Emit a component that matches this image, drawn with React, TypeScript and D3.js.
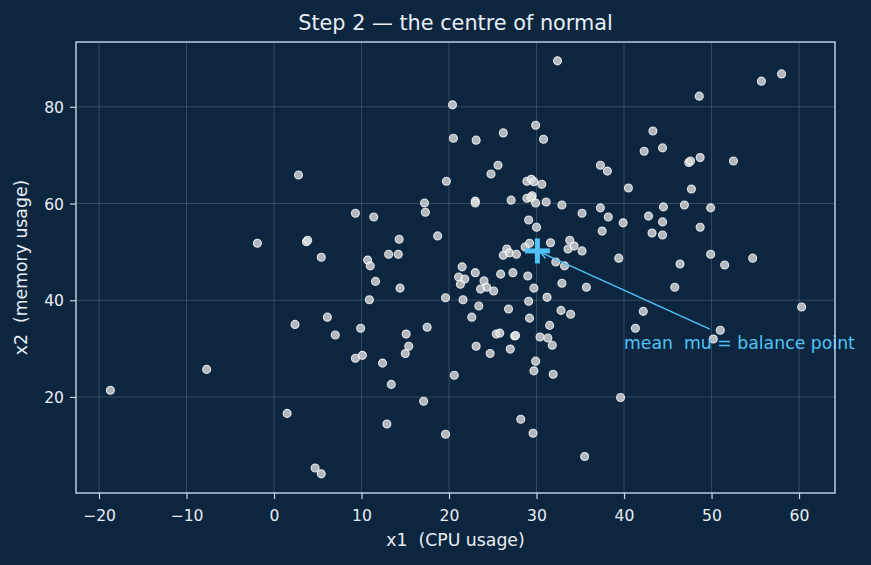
import { useEffect, useRef } from "react";
import * as d3 from "d3";

// one entry per observation: CPU usage (x1) and memory usage (x2)
const cpuUsage = [
  -18.7, -7.7, -1.9, 2.8, 2.4, 3.7, 3.85, 5.4, 1.5, 4.7,
  5.4, 6.1, 7.0, 9.3, 11.4, 9.9, 9.3, 10.1, 12.4, 13.4,
  12.9, 10.7, 11.0, 11.6, 10.9, 14.4, 13.1, 14.2, 14.3, 15.1,
  15.4, 15.0, 17.5, 17.1, 17.2, 17.3, 18.7, 19.6, 19.6, 19.7,
  20.4, 20.5, 20.6, 21.5, 21.1, 21.8, 21.3, 21.6, 22.6, 23.0,
  23.0, 23.0, 23.1, 23.4, 23.1, 24.0, 24.3, 23.6, 25.1, 24.7,
  24.8, 25.6, 25.4, 25.8, 25.9, 26.2, 26.6, 26.2, 26.9, 27.7,
  26.8, 27.0, 27.1, 27.3, 27.5, 27.6, 28.2, 28.7, 28.9, 28.9,
  29.0, 29.1, 29.1, 29.2, 29.2, 29.4, 29.5, 29.4, 29.6, 29.7,
  29.7, 29.7, 29.9, 29.9, 29.9, 30.0, 30.4, 30.6, 30.8, 31.1,
  31.2, 31.3, 31.5, 31.6, 31.8, 31.9, 32.2, 32.4, 32.9, 32.9,
  32.8, 33.2, 33.6, 33.8, 33.9, 34.3, 35.2, 35.2, 35.7, 35.5,
  37.3, 38.1, 37.3, 38.2, 37.5, 39.4, 39.9, 39.6, 40.5, 41.3,
  42.2, 42.3, 42.8, 43.2, 43.3, 44.4, 44.5, 44.4, 44.4, 45.8,
  46.4, 46.9, 47.4, 47.6, 47.7, 48.6, 48.7, 48.7, 49.9, 49.9,
  50.2, 51.0, 51.5, 52.5, 54.7, 55.7, 58.0, 60.3,
];
const memUsage = [
  21.4, 25.7, 51.8, 65.9, 35.0, 52.1, 52.4, 48.9, 16.6, 5.3,
  4.1, 36.5, 32.8, 58.0, 57.2, 34.2, 28.0, 28.6, 27.0, 22.6,
  14.4, 48.3, 47.1, 43.9, 40.1, 42.5, 49.5, 49.5, 52.6, 33.0,
  30.5, 29.0, 34.4, 19.1, 60.1, 58.2, 53.3, 40.5, 12.3, 64.6,
  80.4, 73.5, 24.5, 46.9, 44.8, 44.4, 43.3, 40.1, 36.5, 45.7,
  60.5, 60.1, 73.1, 38.8, 30.5, 44.0, 42.7, 42.3, 41.9, 29.0,
  66.1, 67.9, 33.0, 33.2, 45.4, 74.6, 50.6, 49.3, 49.8, 49.5,
  38.2, 29.9, 60.7, 45.7, 32.6, 32.7, 15.4, 51.0, 64.6, 61.1,
  45.0, 56.6, 39.8, 51.8, 36.3, 65.0, 61.6, 61.2, 12.5, 64.5,
  42.5, 25.4, 76.2, 60.1, 27.4, 55.1, 32.4, 64.0, 73.3, 60.3,
  40.6, 32.2, 34.8, 51.9, 30.7, 24.7, 47.9, 89.5, 59.7, 43.5,
  37.9, 47.1, 50.6, 52.4, 37.1, 51.2, 58.0, 50.2, 42.7, 7.7,
  67.9, 66.7, 59.1, 57.2, 54.3, 48.7, 56.0, 19.9, 63.2, 34.2,
  37.7, 70.8, 57.4, 53.9, 75.0, 71.5, 59.3, 56.2, 53.5, 42.7,
  47.5, 59.7, 68.5, 68.8, 63.0, 82.2, 69.5, 55.1, 59.1, 49.5,
  32.0, 33.8, 47.3, 68.8, 48.7, 85.3, 86.8, 38.6,
];

const xTicks = [-20, -10, 0, 10, 20, 30, 40, 50, 60];
const yTicks = [20, 40, 60, 80];

// centre of the cloud and where its note sits
const meanPoint = { x: 30.1, y: 50.2 };
const noteAt = { x: 40, y: 30 };
const noteText = "mean  mu = balance point";

const WIDTH = 871;
const HEIGHT = 565;
const margin = { top: 42, right: 36, bottom: 72, left: 76 };

const BG = "#0c2640";
const FG = "#e8eef4";
const SPINE = "#c8d6e5";
const ACCENT = "#4fc3f7";
const FONT = "'DejaVu Sans', sans-serif";

const App = () => {
  const ref = useRef<SVGSVGElement | null>(null);

  useEffect(() => {
    document.body.style.margin = "0";
    if (!ref.current) return;

    const svg = d3.select(ref.current);
    svg.selectAll("*").remove();

    const left = margin.left;
    const right = WIDTH - margin.right;
    const top = margin.top;
    const bottom = HEIGHT - margin.bottom;

    const x = d3.scaleLinear().domain([-22.63, 64.11]).range([left, right]);
    const y = d3.scaleLinear().domain([0.14, 93.4]).range([bottom, top]);

    svg.append("rect")
      .attr("width", WIDTH)
      .attr("height", HEIGHT)
      .attr("fill", BG);

    // grid
    const grid = svg.append("g")
      .attr("stroke", "#ffffff")
      .attr("stroke-opacity", 0.16)
      .attr("stroke-width", 1);
    grid.selectAll("line.vx")
      .data(xTicks)
      .join("line")
      .attr("x1", d => x(d))
      .attr("x2", d => x(d))
      .attr("y1", top)
      .attr("y2", bottom);
    grid.selectAll("line.hy")
      .data(yTicks)
      .join("line")
      .attr("class", "hy")
      .attr("x1", left)
      .attr("x2", right)
      .attr("y1", d => y(d))
      .attr("y2", d => y(d));

    // observations
    const points = cpuUsage.map((c, i) => ({ c, m: memUsage[i] }));
    svg.append("g")
      .selectAll("circle")
      .data(points)
      .join("circle")
      .attr("cx", d => x(d.c))
      .attr("cy", d => y(d.m))
      .attr("r", 4)
      .attr("fill", "#dcdcdc")
      .attr("fill-opacity", 0.8)
      .attr("stroke", "#ffffff")
      .attr("stroke-opacity", 0.8)
      .attr("stroke-width", 1.1);

    // mean marker
    const mx = x(meanPoint.x);
    const my = y(meanPoint.y);
    const arm = 12.5;
    svg.append("g")
      .attr("stroke", ACCENT)
      .attr("stroke-width", 5)
      .call(g => {
        g.append("line").attr("x1", mx - arm).attr("x2", mx + arm).attr("y1", my).attr("y2", my);
        g.append("line").attr("x1", mx).attr("x2", mx).attr("y1", my - arm).attr("y2", my + arm);
      });

    // note + arrow pointing at the mean
    const note = svg.append("text")
      .attr("x", x(noteAt.x))
      .attr("y", y(noteAt.y))
      .attr("fill", ACCENT)
      .attr("font-family", FONT)
      .attr("font-size", 17.3)
      .style("white-space", "pre")
      .text(noteText);

    const box = (note.node() as SVGTextElement).getBBox();
    const cx = box.x + box.width / 2;
    const cy = box.y + box.height / 2;
    const dx = mx - cx;
    const dy = my - cy;
    const pad = 3.5;
    const s = Math.min((box.width / 2 + pad) / Math.abs(dx), (box.height / 2 + pad) / Math.abs(dy));
    const sx = cx + s * dx;
    const sy = cy + s * dy;
    const len = Math.hypot(mx - sx, my - sy);
    const ux = (mx - sx) / len;
    const uy = (my - sy) / len;
    const ex = mx - ux * 3.5;
    const ey = my - uy * 3.5;
    const hl = 7;
    const hw = 3.5;

    svg.append("line")
      .attr("x1", sx)
      .attr("y1", sy)
      .attr("x2", ex)
      .attr("y2", ey)
      .attr("stroke", ACCENT)
      .attr("stroke-width", 1.4);
    svg.append("path")
      .attr("d", `M${ex - hl * ux - hw * uy},${ey - hl * uy + hw * ux}L${ex},${ey}L${ex - hl * ux + hw * uy},${ey - hl * uy - hw * ux}`)
      .attr("fill", "none")
      .attr("stroke", ACCENT)
      .attr("stroke-width", 1.4);

    // spines
    svg.append("rect")
      .attr("x", left)
      .attr("y", top)
      .attr("width", right - left)
      .attr("height", bottom - top)
      .attr("fill", "none")
      .attr("stroke", SPINE)
      .attr("stroke-width", 1.4);

    // axes
    const xAxis = svg.append("g")
      .attr("transform", `translate(0,${bottom})`)
      .call(d3.axisBottom(x).tickValues(xTicks).tickSize(6).tickPadding(11));
    const yAxis = svg.append("g")
      .attr("transform", `translate(${left},0)`)
      .call(d3.axisLeft(y).tickValues(yTicks).tickSize(6).tickPadding(6));

    [xAxis, yAxis].forEach(a => {
      a.select(".domain").remove();
      a.selectAll(".tick line").attr("stroke", SPINE).attr("stroke-width", 1.2);
      a.selectAll(".tick text")
        .attr("fill", FG)
        .attr("font-family", FONT)
        .attr("font-size", 15.6);
    });
    yAxis.selectAll(".tick text").attr("dy", "0.36em");

    // labels
    svg.append("text")
      .attr("x", (left + right) / 2)
      .attr("y", 30)
      .attr("text-anchor", "middle")
      .attr("fill", FG)
      .attr("font-family", FONT)
      .attr("font-size", 20.8)
      .text("Step 2 — the centre of normal");

    svg.append("text")
      .attr("x", (left + right) / 2)
      .attr("y", 546)
      .attr("text-anchor", "middle")
      .attr("fill", FG)
      .attr("font-family", FONT)
      .attr("font-size", 17.3)
      .style("white-space", "pre")
      .text("x1  (CPU usage)");

    svg.append("text")
      .attr("transform", `translate(27,${(top + bottom) / 2}) rotate(-90)`)
      .attr("text-anchor", "middle")
      .attr("fill", FG)
      .attr("font-family", FONT)
      .attr("font-size", 17.3)
      .style("white-space", "pre")
      .text("x2  (memory usage)");
  }, []);

  return <svg ref={ref} width={WIDTH} height={HEIGHT} style={{ display: "block" }} />;
};

export default App;
